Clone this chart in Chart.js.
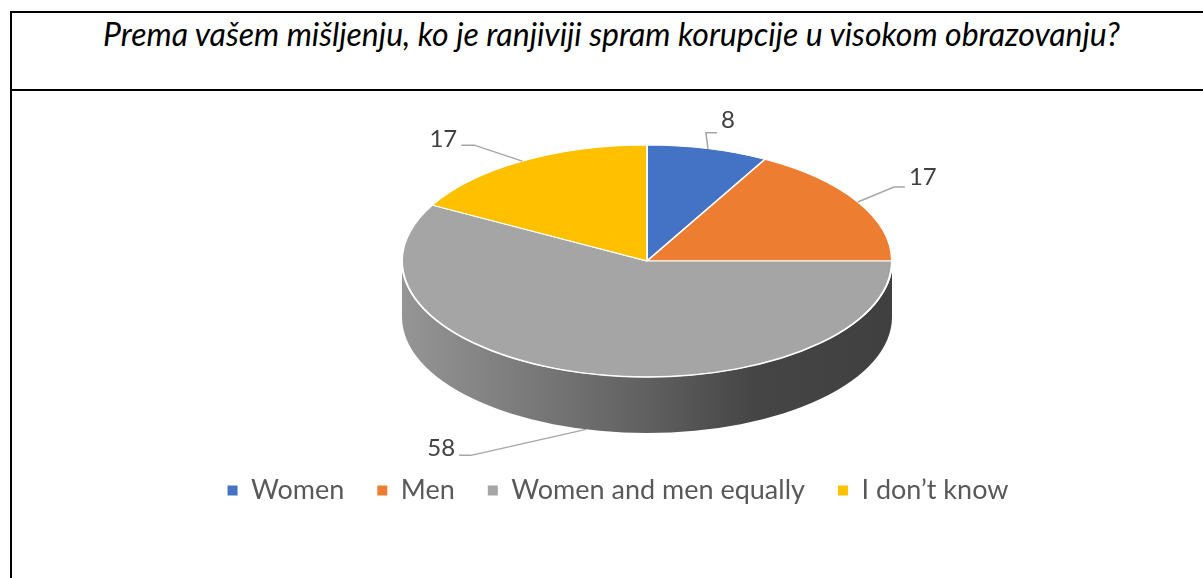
<!DOCTYPE html>
<html>
<head>
<meta charset="utf-8">
<script src="https://cdn.jsdelivr.net/npm/chart.js@4.4.1/dist/chart.umd.min.js"></script>
<style>
    html, body { margin: 0; padding: 0; background: #fff; }
    body { width: 1203px; height: 578px; position: relative; overflow: hidden; font-family: Lato, sans-serif; }
    .frame { position: absolute; left: 10px; top: 11px; width: 1200px; height: 600px; border-left: 2px solid #000; border-top: 2px solid #000; }
    .title-row { position: absolute; left: 10px; top: 11px; width: 1200px; height: 78px; border-bottom: 2px solid #000; }
    .title { position: absolute; left: 12px; right: 0; top: 14px; padding-left: 8px; text-align: center; font-style: italic; font-size: 32px; color: #000; white-space: nowrap; }
    #wrap { position: absolute; left: 0; top: 0; width: 1203px; height: 578px; }
</style>
</head>
<body>
<div class="frame"></div>
<div class="title-row"></div>
<div class="title" id="title"></div>
<div id="wrap"><canvas id="pieChart"></canvas></div>
<script>
const chartTitle = 'Prema vašem mišljenju, ko je ranjiviji spram korupcije u visokom obrazovanju?';
const categories = ['Women', 'Men', 'Women and men equally', 'I don’t know'];
const shares = [8, 17, 58, 17];
const sliceColors = ['#4472C4', '#ED7D31', '#A5A5A5', '#FFC000'];

document.getElementById('title').textContent = chartTitle;

function shade(hex, f) {
    const n = parseInt(hex.slice(1), 16);
    const r = Math.round(((n >> 16) & 255) * f);
    const g = Math.round(((n >> 8) & 255) * f);
    const b = Math.round((n & 255) * f);
    return 'rgb(' + r + ',' + g + ',' + b + ')';
}

// squashes the flat pie into a tilted disc and draws the side wall + data labels
const pie3d = {
    id: 'pie3d',
    beforeDatasetsDraw(chart, args, opts) {
        const arcs = chart.getDatasetMeta(0).data;
        if (!arcs.length) return;
        const ctx = chart.ctx;
        const { x: cx, y: cy, outerRadius: r } = arcs[0];
        const px = cx + opts.shiftX;
        const ry = r * opts.tilt;
        const d = opts.depth;

        arcs.forEach((arc, i) => {
            const a0 = Math.max(arc.startAngle, 0);
            const a1 = Math.min(arc.endAngle, Math.PI);
            if (a1 <= a0) return;
            const base = sliceColors[i];
            const grad = ctx.createLinearGradient(px - r, 0, px + r, 0);
            grad.addColorStop(0, shade(base, 0.9));
            grad.addColorStop(0.5, shade(base, 0.58));
            grad.addColorStop(0.72, shade(base, 0.42));
            grad.addColorStop(1, shade(base, 0.39));
            ctx.beginPath();
            ctx.ellipse(px, cy, r, ry, 0, a0, a1);
            ctx.ellipse(px, cy + d, r, ry, 0, a1, a0, true);
            ctx.closePath();
            ctx.fillStyle = grad;
            ctx.fill();
        });

        ctx.save();
        ctx.translate(px, cy);
        ctx.scale(1, opts.tilt);
        ctx.translate(-cx, -cy);
    },
    afterDatasetsDraw(chart, args, opts) {
        const arcs = chart.getDatasetMeta(0).data;
        if (!arcs.length) return;
        const ctx = chart.ctx;
        ctx.restore();
        const { x: cx, y: cy, outerRadius: r } = arcs[0];
        const px = cx + opts.shiftX;
        const ry = r * opts.tilt;
        const d = opts.depth;

        // light rim on the front edge
        ctx.save();
        ctx.beginPath();
        ctx.ellipse(px, cy, r, ry, 0, 0, Math.PI);
        ctx.strokeStyle = 'rgba(255,255,255,0.9)';
        ctx.lineWidth = 1.5;
        ctx.stroke();

        ctx.font = '24px Lato';
        ctx.fillStyle = '#404040';
        ctx.textBaseline = 'middle';
        arcs.forEach((arc, i) => {
            const mid = (arc.startAngle + arc.endAngle) / 2;
            const ax = px + r * Math.cos(mid);
            let ay = cy + ry * Math.sin(mid);
            if (Math.sin(mid) > 0) ay += d;
            const [ex, ey, h, ty] = opts.leaders[i];
            const bx = ax + ex, by = ay + ey;
            ctx.beginPath();
            ctx.moveTo(ax, ay);
            ctx.lineTo(bx, by);
            ctx.lineTo(bx + h, by);
            ctx.strokeStyle = '#a6a6a6';
            ctx.lineWidth = 1.5;
            ctx.stroke();
            ctx.textAlign = h > 0 ? 'left' : 'right';
            ctx.fillText(String(shares[i]), bx + h + (h > 0 ? 4 : -4), by + ty);
        });
        ctx.restore();
    }
};

document.addEventListener('DOMContentLoaded', function () {
    const ctx = document.getElementById('pieChart').getContext('2d');
    const baseLabels = Chart.overrides.doughnut.plugins.legend.labels.generateLabels;

    new Chart(ctx, {
        type: 'pie',
        data: {
            labels: categories,
            datasets: [
                {
                    data: shares,
                    backgroundColor: sliceColors,
                    borderColor: '#ffffff',
                    borderWidth: 2,
                    radius: 245,
                    clip: false,
                },
            ],
        },
        options: {
            responsive: true,
            maintainAspectRatio: false,
            animation: false,
            events: [],
            layout: { padding: { top: 78, bottom: 64, left: 33, right: 0 } },
            plugins: {
                tooltip: { enabled: false },
                legend: {
                    position: 'bottom',
                    labels: {
                        boxWidth: 10,
                        boxHeight: 10,
                        padding: 33,
                        color: '#595959',
                        font: { family: 'Lato', size: 27 },
                        generateLabels: (chart) => baseLabels(chart).map(l => ({ ...l, lineWidth: 0 })),
                    },
                },
                pie3d: {
                    tilt: 0.4735,
                    depth: 56,
                    shiftX: 29,
                    leaders: [[-2, -16, 11, -12], [36, -15, 11, -10], [-115, 26, -12, -7], [-48, -16, -13, -6]],
                },
            },
        },
        plugins: [pie3d],
    });
});
</script>
</body>
</html>
